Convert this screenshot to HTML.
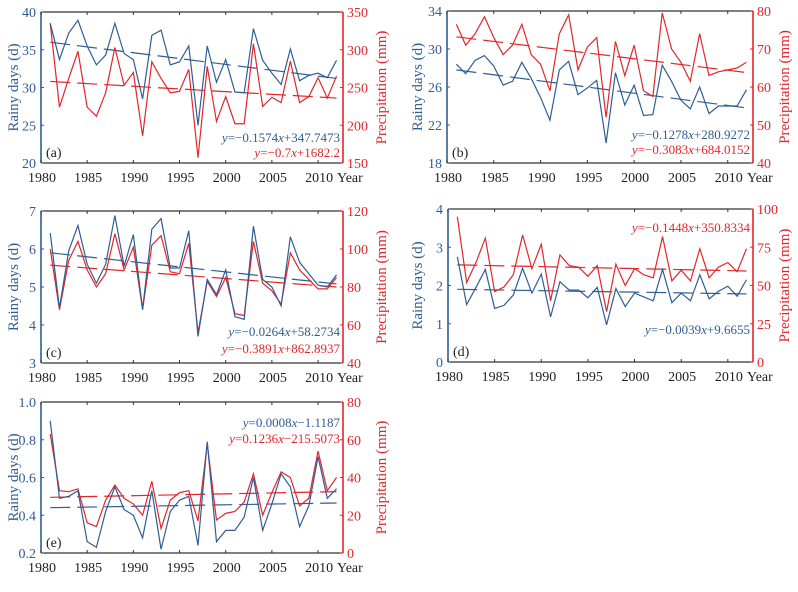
<!DOCTYPE html>
<html><head><meta charset="utf-8">
<style>
html,body{margin:0;padding:0;background:#fff;}
svg{display:block;font-family:"Liberation Serif",serif;}
</style></head>
<body>
<svg id="chart" width="798" height="592" viewBox="0 0 798 592" xmlns="http://www.w3.org/2000/svg"></svg>
<script>
const years = [1981,1982,1983,1984,1985,1986,1987,1988,1989,1990,1991,1992,1993,1994,1995,1996,1997,1998,1999,2000,2001,2002,2003,2004,2005,2006,2007,2008,2009,2010,2011,2012];
const xTicks = [1980,1985,1990,1995,2000,2005,2010];

const daysA = [38.5,33.7,37.2,38.9,35.5,33.0,34.3,38.5,34.5,33.7,28.5,36.9,37.6,33.0,33.4,35.5,25.0,35.5,30.7,33.7,29.4,29.3,37.8,33.6,31.9,30.4,35.1,30.9,31.6,31.9,31.3,33.6];
const precA = [335,224,262,298,224,212,243,303,253,270,186,284,262,243,245,274,157,278,205,238,202,202,308,225,237,230,285,230,238,263,236,265];
const daysB = [28.4,27.4,28.8,29.3,28.2,26.2,26.6,28.6,26.9,24.9,22.5,27.8,28.7,25.2,25.9,26.7,20.1,27.5,24.1,26.2,23.0,23.1,28.3,26.6,24.6,23.7,26.0,23.2,24.0,24.0,24.0,25.7];
const precB = [76.5,71,74,78.5,73,68.5,71,76.5,68.5,66,59,74,79,64.5,70.5,73,52,72,63,71,59,57.5,79.5,70,66.5,61.5,74,63,64,64.5,65,66.5];
const daysC = [6.42,4.45,5.95,6.62,5.6,5.1,5.6,6.88,5.55,6.38,4.42,6.52,6.8,5.5,5.5,6.48,3.7,5.2,4.8,5.45,4.22,4.15,6.6,5.2,5.0,4.5,6.32,5.65,5.35,5.05,5.0,5.32];
const precC = [100,68,94,104,89,80,87,108,89,101,68,102,107,88,87,103,56,83,75,85,66,65,104,82,78,71,98,89,84,79,79,85];
const daysD = [2.75,1.5,1.95,2.42,1.4,1.48,1.75,2.45,1.8,2.3,1.18,2.1,1.88,1.88,1.68,1.95,0.97,1.92,1.45,1.8,1.7,1.6,2.42,1.55,1.8,1.6,2.28,1.65,1.85,1.98,1.72,2.15];
const precD = [95,52,65,81,46,49,57,83,61,77,40,70,63,62,56,63,33,64,50,61,57,55,82,53,60,53,74,55,62,65,59,74];
const daysE = [0.9,0.49,0.5,0.53,0.26,0.23,0.42,0.55,0.43,0.4,0.28,0.53,0.22,0.42,0.48,0.5,0.24,0.79,0.26,0.32,0.32,0.39,0.6,0.32,0.46,0.62,0.55,0.34,0.45,0.71,0.49,0.54];
const precE = [63,33,32.5,34,16,14,28,36,29,26,20,38,13,28,32,33,17,58,17.5,21,22,27,42,20,32,43,40,25,29,54,33,40];

const leftTicksA=[20,25,30,35,40], rightTicksA=[150,200,250,300,350];
const leftTicksB=[18,22,26,30,34], rightTicksB=[40,50,60,70,80];
const leftTicksC=[3,4,5,6,7], rightTicksC=[40,60,80,100,120];
const leftTicksD=[0,1,2,3,4], rightTicksD=[0,25,50,75,100];
const leftTicksE=[0.2,0.4,0.6,0.8,1.0], rightTicksE=[0,20,40,60,80];
// trend line values at 1981 and 2012 (as drawn)
const trendDaysA=[36.0,31.2], trendPrecA=[258,236];
const trendDaysB=[27.8,23.8], trendPrecB=[73.2,63.8];
const trendDaysC=[5.9,5.08], trendPrecC=[91.5,80];
const trendDaysD=[1.9,1.78], trendPrecD=[63.5,59.5];
const trendDaysE=[0.44,0.465], trendPrecE=[29.5,32.5];

const NS="http://www.w3.org/2000/svg";
const svg=document.getElementById('chart');
const BLUE="#2f5d95", RED="#e2262b";
function mk(tag,attrs,parent){const e=document.createElementNS(NS,tag);for(const k in attrs)e.setAttribute(k,attrs[k]);(parent||svg).appendChild(e);return e;}

function panel(p){
  const g=mk('g',{});
  
  
  const L=p.x0,R=p.x1,T=p.y0,B=p.y1;
  const xs=v=>L+(v-1980)/(2012.7-1980)*(R-L);
  const yl=v=>B-(v-p.lt[0])/(p.lt[p.lt.length-1]-p.lt[0])*(B-T);
  const yr=v=>B-(v-p.rt[0])/(p.rt[p.rt.length-1]-p.rt[0])*(B-T);
  const top=mk('line',{x1:L,y1:T,x2:R,y2:T,stroke:'#333','stroke-width':1.3},g);
  
  
  const bot=mk('line',{x1:L,y1:B,x2:R,y2:B,stroke:'#333','stroke-width':1.3},g);
  
  
  const la=mk('line',{x1:L,y1:T,x2:L,y2:B,stroke:BLUE,'stroke-width':1.6},g);
  
  
  const ra=mk('line',{x1:R,y1:T,x2:R,y2:B,stroke:RED,'stroke-width':1.6},g);
  
  
  xTicks.forEach(t=>{
    const x=xs(t);
    mk('line',{x1:x,y1:B,x2:x,y2:B-3,stroke:'#333'},g);
    mk('line',{x1:x,y1:T,x2:x,y2:T+3,stroke:'#333'},g);
    const tx=mk('text',{x:x+1,y:B+19,'font-size':14,'text-anchor':'middle',fill:'#222'},g);
    tx.textContent=t;
    
    
  });
  const yt=mk('text',{x:R-6,y:B+19,'font-size':14,fill:'#222'},g);
  yt.textContent='Year';
  
  
  p.lt.forEach(t=>{
    const y=yl(t);
    mk('line',{x1:L,y1:y,x2:L+3,y2:y,stroke:BLUE},g);
    const tx=mk('text',{x:L-5,y:y+5,'font-size':14,'text-anchor':'end',fill:BLUE},g);
    tx.textContent=p.fmt?t.toFixed(1):t;
    
    
  });
  p.rt.forEach(t=>{
    const y=yr(t);
    mk('line',{x1:R,y1:y,x2:R-3,y2:y,stroke:RED},g);
    const tx=mk('text',{x:R+4,y:y+5,'font-size':14,fill:RED},g);
    tx.textContent=t;
    
    
  });
  const cy=(T+B)/2;
  const lt=mk('text',{x:0,y:0,'font-size':15,'text-anchor':'middle',fill:BLUE,transform:`translate(${p.ltx},${cy}) rotate(-90)`},g);
  lt.textContent='Rainy days (d)';
  
  
  const rtt=mk('text',{x:0,y:0,'font-size':15,'text-anchor':'middle',fill:RED,transform:`translate(${p.rtx},${cy}) rotate(-90)`},g);
  rtt.textContent='Precipitation (mm)';
  
  
  const tl=(c,f,col,name)=>{
    const l=mk('line',{x1:xs(1981),y1:f(c[0]),x2:xs(2012),y2:f(c[1]),stroke:col,'stroke-width':1.2,'stroke-dasharray':'20,7'},g);
    
    
  };
  tl(p.td,yl,BLUE,'rainy-days-trend');
  tl(p.tp,yr,RED,'precipitation-trend');
  const ser=(d,f,col,name)=>{
    const pl=mk('polyline',{points:d.map((v,i)=>xs(years[i])+','+f(v)).join(' '),fill:'none',stroke:col,'stroke-width':1.2},g);
    
    
  };
  ser(p.pr,yr,RED,'precipitation-line');
  ser(p.dy,yl,BLUE,'rainy-days-line');
  const pl=mk('text',{x:L+5,y:B-6,'font-size':14,fill:'#222'},g);
  pl.textContent='('+p.id+')';
  
  
  const eq=(s,y,col,name)=>{
    const t=mk('text',{x:R-3,y:y,'font-size':13,'text-anchor':'end',fill:col},g);
    t.innerHTML=s;
    
    
  };
  eq(p.eqd,p.eqdy,BLUE,'rainy-days-equation');
  eq(p.eqp,p.eqpy,RED,'precipitation-equation');
}
const I=s=>'<tspan font-style="italic">y</tspan>'+s.replace('x','<tspan font-style="italic">x</tspan>');
panel({id:'a',x0:41,x1:343,y0:12,y1:163,lt:leftTicksA,rt:rightTicksA,dy:daysA,pr:precA,td:trendDaysA,tp:trendPrecA,ltx:18,rtx:386,eqd:I('=−0.1574x+347.7473'),eqdy:142,eqp:I('=−0.7x+1682.2'),eqpy:157});
panel({id:'b',x0:447,x1:753,y0:11,y1:163,lt:leftTicksB,rt:rightTicksB,dy:daysB,pr:precB,td:trendDaysB,tp:trendPrecB,ltx:422,rtx:789,eqd:I('=−0.1278x+280.9272'),eqdy:139,eqp:I('=−0.3083x+684.0152'),eqpy:154});
panel({id:'c',x0:41,x1:343,y0:211,y1:363,lt:leftTicksC,rt:rightTicksC,dy:daysC,pr:precC,td:trendDaysC,tp:trendPrecC,ltx:18,rtx:386,eqd:I('=−0.0264x+58.2734'),eqdy:336,eqp:I('=−0.3891x+862.8937'),eqpy:353});
panel({id:'d',x0:448,x1:753,y0:209,y1:362,lt:leftTicksD,rt:rightTicksD,dy:daysD,pr:precD,td:trendDaysD,tp:trendPrecD,ltx:422,rtx:789,eqd:I('=−0.0039x+9.6655'),eqdy:334,eqp:I('=−0.1448x+350.8334'),eqpy:232});
panel({id:'e',x0:41,x1:343,y0:402,y1:553,lt:leftTicksE,rt:rightTicksE,dy:daysE,pr:precE,td:trendDaysE,tp:trendPrecE,fmt:true,ltx:18,rtx:386,eqd:I('=0.0008x−1.1187'),eqdy:427,eqp:I('=0.1236x−215.5073'),eqpy:443});
</script>
</body></html>
